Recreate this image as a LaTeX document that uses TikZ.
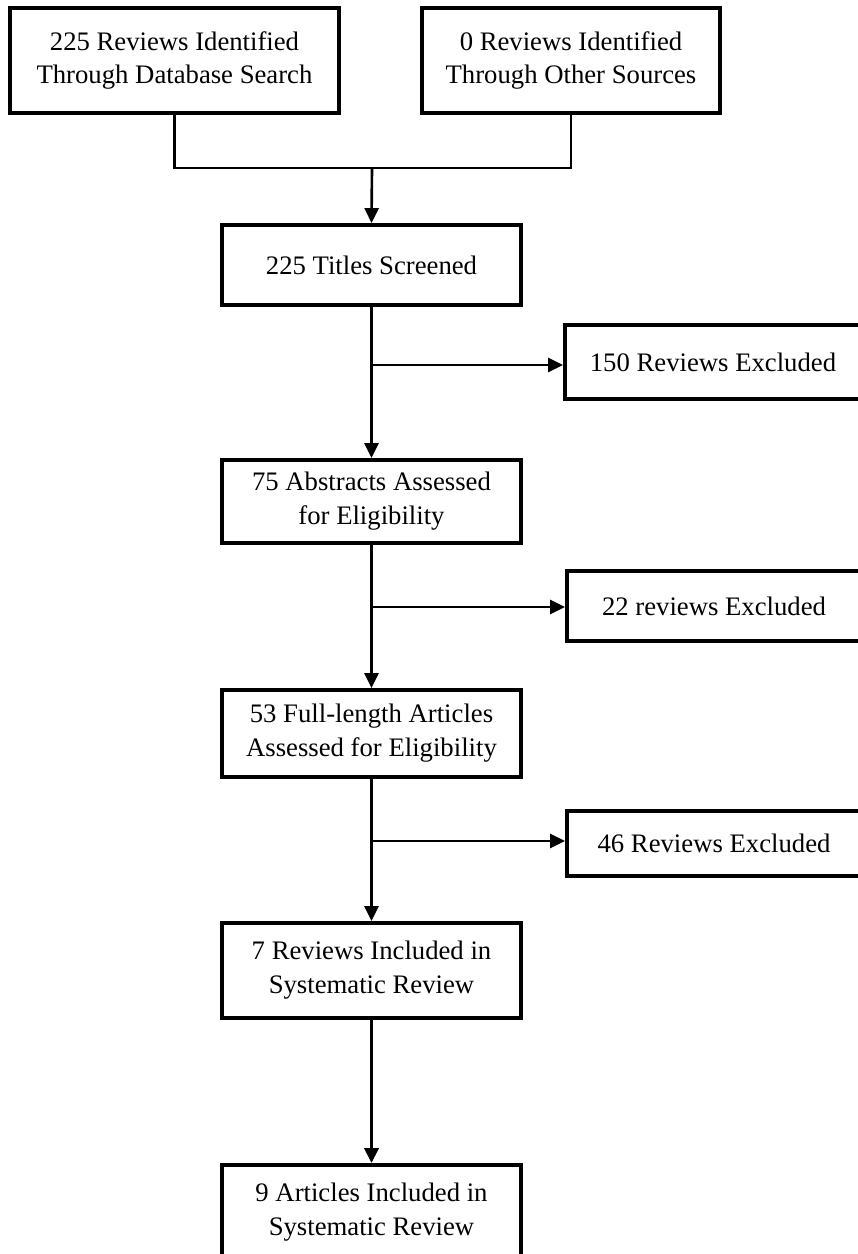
\documentclass[tikz,border=0pt]{standalone}
\usepackage{fontspec}
\setmainfont{Liberation Serif}
\usetikzlibrary{arrows.meta}

\begin{document}
\begin{tikzpicture}[x=0.02cm,y=-0.02cm]
  \useasboundingbox (0,0) rectangle (858,1254);
  \clip (0,0) rectangle (858,1254);

  \begin{scope}[every node/.style={rectangle,draw,line width=2.2pt,align=center,inner sep=0pt,
      font=\fontsize{15.2}{19.3}\selectfont}]
      \node[minimum width=6.58cm,minimum height=2.1cm] (db) at (174.5,60.5) {225 Reviews Identified\\Through Database Search};
      \node[minimum width=5.96cm,minimum height=2.1cm] (os) at (571,60.5) {0 Reviews Identified\\Through Other Sources};

      \node[minimum width=5.98cm,minimum height=1.6cm] (ts) at (371.5,265) {225 Titles Screened};
      \node[minimum width=5.92cm,minimum height=1.48cm] (ex1) at (713,362) {150 Reviews Excluded};

      \node[minimum width=5.98cm,minimum height=1.66cm] (ab) at (371.5,501.5) {75 Abstracts Assessed\\for Eligibility};
      \node[minimum width=5.88cm,minimum height=1.4cm] (ex2) at (714,606) {22 reviews Excluded};

      \node[minimum width=5.98cm,minimum height=1.74cm] (fl) at (371.5,733.5) {53 Full-length Articles\\Assessed for Eligibility};
      \node[minimum width=5.88cm,minimum height=1.3cm] (ex3) at (714,843.5) {46 Reviews Excluded};

      \node[minimum width=5.98cm,minimum height=1.9cm] (rv) at (371.5,970.5) {7 Reviews Included in\\Systematic Review};
      \node[minimum width=5.98cm,minimum height=1.9cm] (ar) at (371.5,1212.5) {9 Articles Included in\\Systematic Review};
  \end{scope}

  \coordinate (j0) at (372,168);
  \coordinate (j1) at (372,365);
  \coordinate (j2) at (372,607);
  \coordinate (j3) at (372,841);

  \tikzset{thin arc/.style={-{Triangle[length=0.3cm,width=0.28cm]}, black, line width=1.5pt}}

  \draw[line width=1.5pt] (db.south) |- (j0) -| (os.south);
  \draw[thin arc] (j0) -- (ts.north);

  \draw[thin arc] (ts.south) -- (ab.north);
  \draw[thin arc] (j1) -- (ex1.west |- j1);

  \draw[thin arc] (ab.south) -- (fl.north);
  \draw[thin arc] (j2) -- (ex2.west |- j2);

  \draw[thin arc] (fl.south) -- (rv.north);
  \draw[thin arc] (j3) -- (ex3.west |- j3);

  \draw[thin arc, line width=2.2pt] (rv.south) -- (ar.north);

\end{tikzpicture}
\end{document}
